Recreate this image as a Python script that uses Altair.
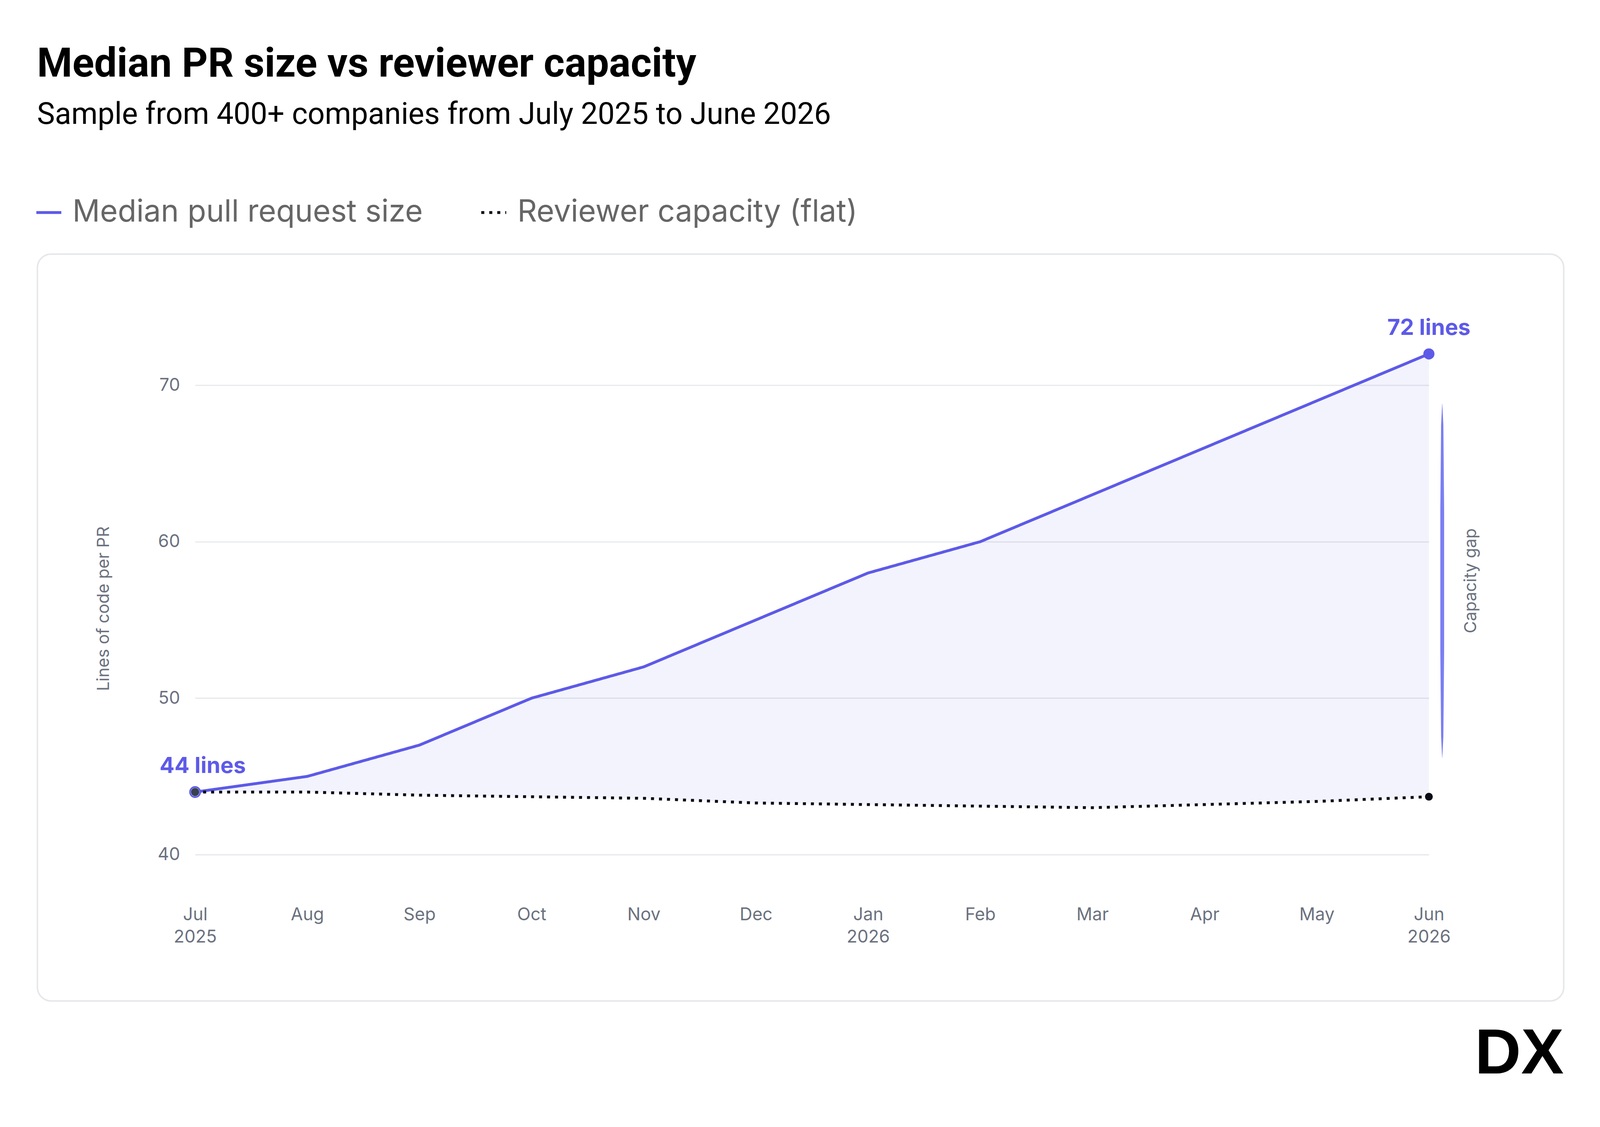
import altair as alt
import pandas as pd

# ---------------- data ----------------
months = ["Jul 2025", "Aug", "Sep", "Oct", "Nov", "Dec",
          "Jan 2026", "Feb", "Mar", "Apr", "May", "Jun 2026"]
pr_size = [44, 45, 47, 50, 52, 55, 58, 60, 63, 66, 69, 72]
capacity = [44.0, 44.0, 43.8, 43.7, 43.6, 43.3, 43.2, 43.1, 43.0, 43.2, 43.4, 43.7]
series_names = ["Median pull request size", "Reviewer capacity (flat)"]
y_ticks = [40, 50, 60, 70]

title_text = "Median PR size vs reviewer capacity"
subtitle_text = "Sample from 400+ companies from July 2025 to June 2026"
y_title = "Lines of code per PR"
gap_label = "Capacity gap"
gap_span = [46.2, 68.8]                   # bracket extent (annotation)
gap_steps = [0, 0.06, 0.3, 0.7, 0.94, 1]  # bracket shape (style)
gap_profile = [0.5, 6, 10, 10, 6, 0.5]    # bracket width profile (style)

BLUE = "#5d5ae8"
GRAY = "#6b7280"
INK = "#0b0b16"

idx = list(range(len(months)))
wide = pd.DataFrame({"idx": idx, "pr": pr_size, "cap": capacity})
long = pd.DataFrame({
    "idx": idx + idx,
    "value": pr_size + capacity,
    "series": [series_names[0]] * len(idx) + [series_names[1]] * len(idx),
})
one = pd.DataFrame({"a": [0]})

label_arr = "[" + ",".join("'%s'" % m for m in months) + "]"
x_enc = alt.X("idx:Q",
              scale=alt.Scale(domain=[0, len(months) - 1], nice=False, zero=False),
              axis=alt.Axis(values=idx, labelExpr="split(%s[datum.value], ' ')" % label_arr,
                            labelFlush=False, labelOverlap=False, labelBound=False,
                            labelPadding=136, labelLineHeight=58, labelFontSize=46,
                            labelFont="Inter", labelColor=GRAY, grid=False, domain=False,
                            ticks=False, title=None))
y_scale = alt.Scale(domain=[40, 72], nice=False, zero=False)
y_enc = alt.Y("value:Q", scale=y_scale,
              axis=alt.Axis(values=y_ticks, grid=True, gridColor="#e5e7eb", gridWidth=3,
                            domain=False, ticks=False, labelFontSize=46, labelFont="Inter",
                            labelColor=GRAY, labelPadding=40, title=y_title,
                            titleFont="Inter", titleFontSize=44, titleFontWeight="normal",
                            titleColor=GRAY, titleX=-240, titleY=668,
                            titleAlign="center", titleBaseline="middle"))

W, H = 3239, 1314

legend_kw = dict(orient="none", direction="horizontal", legendX=-424, legendY=-411,
                 title=None, labelFont="Inter", labelFontSize=80, labelColor="#666666",
                 symbolType="stroke", symbolSize=4300, symbolStrokeWidth=7.5,
                 labelOffset=22, columnPadding=138, labelLimit=2000)

card = alt.Chart(one).mark_rect(filled=False, color="#e5e7eb", strokeWidth=4,
                                cornerRadius=36).encode(
    x=alt.value(-414), x2=alt.value(3593), y=alt.value(-262), y2=alt.value(1698))

area = alt.Chart(wide).mark_area(color=BLUE, opacity=0.075).encode(
    x=x_enc, y=alt.Y("pr:Q", scale=y_scale), y2="cap:Q")

lines = alt.Chart(long).mark_line(strokeWidth=7.5).encode(
    x=x_enc, y=y_enc,
    color=alt.Color("series:N",
                    scale=alt.Scale(domain=series_names, range=[BLUE, INK]),
                    legend=alt.Legend(**legend_kw)),
    strokeDash=alt.StrokeDash("series:N",
                              scale=alt.Scale(domain=series_names, range=[[1, 0], [8, 13]]),
                              legend=alt.Legend(**legend_kw)),
    order="idx:Q")

first = wide.iloc[[0]]
last = wide.iloc[[-1]]

start_ring = alt.Chart(first).mark_point(filled=True, fill="white", stroke=BLUE,
                                         strokeWidth=4, size=720, opacity=1).encode(
    x="idx:Q", y=alt.Y("pr:Q", scale=y_scale))
start_dot = alt.Chart(first).mark_point(filled=True, color="#374151", size=470,
                                        opacity=1).encode(
    x="idx:Q", y=alt.Y("pr:Q", scale=y_scale))
end_blue = alt.Chart(last).mark_point(filled=True, color=BLUE, size=850, opacity=1).encode(
    x="idx:Q", y=alt.Y("pr:Q", scale=y_scale))
end_cap = alt.Chart(last).mark_point(filled=True, color=INK, size=420, opacity=1).encode(
    x="idx:Q", y=alt.Y("cap:Q", scale=y_scale))

ends = pd.DataFrame({"idx": [idx[0], idx[-1]], "pr": [pr_size[0], pr_size[-1]],
                     "txt": ["%d lines" % pr_size[0], "%d lines" % pr_size[-1]]})
lbl_first = alt.Chart(ends.iloc[[0]]).mark_text(font="Inter", fontWeight="bold", fontSize=58,
                                                color=BLUE, dy=-50, dx=20,
                                                baseline="alphabetic").encode(
    x="idx:Q", y=alt.Y("pr:Q", scale=y_scale), text="txt:N")
lbl_last = alt.Chart(ends.iloc[[1]]).mark_text(font="Inter", fontWeight="bold", fontSize=58,
                                               color=BLUE, dy=-50,
                                               baseline="alphabetic").encode(
    x="idx:Q", y=alt.Y("pr:Q", scale=y_scale), text="txt:N")

n = len(gap_profile)
gap_df = pd.DataFrame({
    "x": [idx[-1]] * n,
    "y": [gap_span[0] + (gap_span[1] - gap_span[0]) * t for t in gap_steps],
    "w": gap_profile,
    "o": list(range(n)),
})
gap = alt.Chart(gap_df).mark_trail(color="#7a7ff3", xOffset=35).encode(
    x="x:Q", y=alt.Y("y:Q", scale=y_scale),
    size=alt.Size("w:Q", scale=None, legend=None), order="o:Q")

gap_text = alt.Chart(one).mark_text(text=gap_label, angle=270, xOffset=111, font="Inter",
                                    fontSize=44, color=GRAY, align="center",
                                    baseline="middle").encode(
    x=alt.datum(idx[-1]), y=alt.datum(sum(gap_span) / 2))

title = alt.Chart(one).mark_text(text=title_text, font="Roboto",
                                 fontWeight="bold", fontSize=106, color="#000000",
                                 align="left", baseline="alphabetic").encode(
    x=alt.value(-415), y=alt.value(-728))
subtitle = alt.Chart(one).mark_text(text=subtitle_text, font="Roboto",
                                    fontSize=79, color="#000000", align="left",
                                    baseline="alphabetic").encode(
    x=alt.value(-415), y=alt.value(-604))
logo = alt.Chart(one).mark_text(text="DX", font="Liberation Sans", fontWeight="bold",
                                fontSize=168, color="#000000", align="right",
                                baseline="alphabetic").encode(
    x=alt.value(3593), y=alt.value(1888))

chart = alt.layer(card, area, lines, start_ring, start_dot, end_blue, end_cap,
                  lbl_first, lbl_last, gap, gap_text, title, subtitle, logo).properties(
    width=W, height=H,
    autosize=alt.AutoSizeParams(type="none"),
    padding={"left": 504, "top": 884, "right": 441, "bottom": 670},
    background="white",
).configure_view(strokeWidth=0)

chart.save("out.html", embed_options={"renderer": "svg", "actions": False})
